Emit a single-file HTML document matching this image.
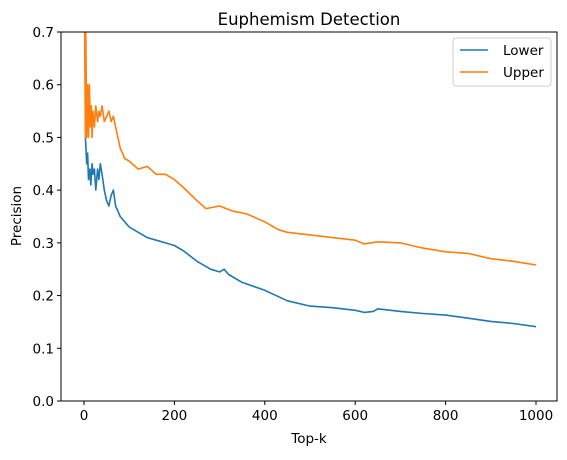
<!DOCTYPE html>
<html><head><meta charset="utf-8"><style>
body{margin:0;background:#fff;width:567px;height:455px;overflow:hidden;font-family:"Liberation Sans","DejaVu Sans",sans-serif}
</style></head><body>
<svg id="chart" width="567" height="455" xmlns="http://www.w3.org/2000/svg" font-family="'DejaVu Sans','Liberation Sans',sans-serif">
<defs><clipPath id="clip"><rect x="61" y="32" width="496" height="369"/></clipPath></defs>
<text x="309" y="25" text-anchor="middle" font-size="16.5">Euphemism Detection</text>
<g id="axes"></g>
<g id="series" clip-path="url(#clip)"></g>
<rect x="61" y="32" width="496" height="369" fill="none" stroke="#000" stroke-width="1"/>
<text x="309" y="443" text-anchor="middle" font-size="13.5">Top-k</text>
<text transform="translate(21,216) rotate(-90)" text-anchor="middle" font-size="13.5">Precision</text>
<g>
<rect x="453" y="38" width="98" height="48" rx="3" fill="#fff" stroke="#ccc"/>
<line x1="460" y1="50" x2="488" y2="50" stroke="#1f77b4" stroke-width="1.5"/>
<text x="503" y="55" font-size="13.5">Lower</text>
<line x1="460" y1="72" x2="488" y2="72" stroke="#ff7f0e" stroke-width="1.5"/>
<text x="503" y="77" font-size="13.5">Upper</text>
</g>
</svg>
<script>
const xTicks=[0,200,400,600,800,1000];
const yTicks=[0.0,0.1,0.2,0.3,0.4,0.5,0.6,0.7];
const lowerK=[3,6,8,10,13,15,18,20,23,26,30,33,36,40,45,50,55,60,65,70,75,80,90,100,110,120,140,160,180,200,220,250,280,300,310,320,350,400,450,500,550,600,620,640,650,700,750,800,850,900,950,1000];
const lowerV=[0.5,0.45,0.47,0.42,0.44,0.41,0.45,0.43,0.44,0.40,0.44,0.42,0.45,0.43,0.40,0.38,0.37,0.39,0.40,0.37,0.36,0.35,0.34,0.33,0.325,0.32,0.31,0.305,0.30,0.295,0.285,0.265,0.25,0.245,0.25,0.24,0.225,0.21,0.19,0.18,0.177,0.172,0.168,0.17,0.175,0.17,0.166,0.163,0.157,0.151,0.147,0.141];
const upperK=[1,3,4,6,8,10,12,14,16,18,20,23,26,30,33,36,40,45,50,55,60,65,70,75,80,90,100,120,140,160,180,200,220,250,270,300,330,360,400,430,450,500,550,600,620,650,700,750,800,850,900,950,1000];
const upperV=[0.75,0.5,0.7,0.5,0.6,0.5,0.6,0.52,0.56,0.5,0.55,0.52,0.56,0.53,0.55,0.54,0.56,0.53,0.54,0.55,0.53,0.54,0.52,0.50,0.48,0.46,0.455,0.44,0.445,0.43,0.43,0.42,0.405,0.38,0.365,0.37,0.36,0.355,0.34,0.325,0.32,0.315,0.31,0.305,0.298,0.302,0.30,0.29,0.283,0.28,0.27,0.265,0.258];
const X=k=>84+k*(536-84)/1000;
const Y=v=>401-v*(369/0.7);
const NS="http://www.w3.org/2000/svg";
const axes=document.getElementById('axes');
xTicks.forEach(t=>{
  const l=document.createElementNS(NS,'line');
  l.setAttribute('x1',X(t));l.setAttribute('x2',X(t));l.setAttribute('y1',401);l.setAttribute('y2',405);l.setAttribute('stroke','#000');
  
  
  axes.appendChild(l);
  const s=document.createElementNS(NS,'text');
  s.setAttribute('x',X(t));s.setAttribute('y',420);s.setAttribute('text-anchor','middle');s.setAttribute('font-size','13.5');
  s.textContent=t;
  
  
  axes.appendChild(s);
});
yTicks.forEach(t=>{
  const l=document.createElementNS(NS,'line');
  l.setAttribute('x1',57);l.setAttribute('x2',61);l.setAttribute('y1',Y(t));l.setAttribute('y2',Y(t));l.setAttribute('stroke','#000');
  
  
  axes.appendChild(l);
  const s=document.createElementNS(NS,'text');
  s.setAttribute('x',54);s.setAttribute('y',Y(t)+5);s.setAttribute('text-anchor','end');s.setAttribute('font-size','13.5');
  s.textContent=t.toFixed(1);
  
  
  axes.appendChild(s);
});
const ser=document.getElementById('series');
function line(ks,vs,color,name){
  const p=document.createElementNS(NS,'path');
  p.setAttribute('d',ks.map((k,i)=>(i?'L':'M')+X(k).toFixed(1)+' '+Y(vs[i]).toFixed(1)).join(' '));
  p.setAttribute('fill','none');p.setAttribute('stroke',color);p.setAttribute('stroke-width','1.6');p.setAttribute('stroke-linejoin','round');
  
  
  ser.appendChild(p);
}
line(lowerK,lowerV,'#1f77b4','lower-line');
line(upperK,upperV,'#ff7f0e','upper-line');
</script>
</body></html>
